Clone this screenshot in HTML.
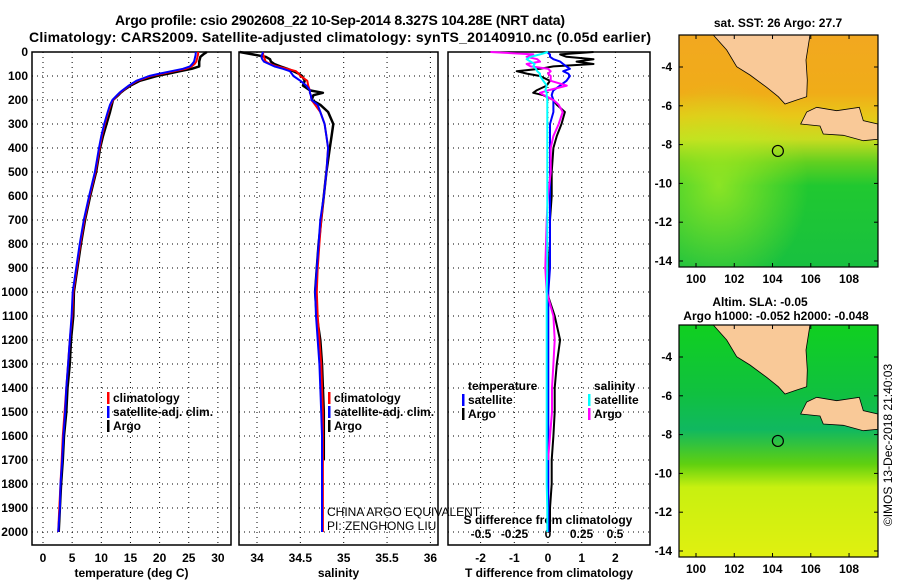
<!DOCTYPE html>
<html><head><meta charset="utf-8"><style>
html,body{margin:0;padding:0;background:#fff;}
svg{display:block;font-family:"Liberation Sans",sans-serif;}
.t{font-weight:bold;font-size:12px;fill:#000;}
.h{font-weight:bold;font-size:14px;fill:#000;}
</style></head><body>
<svg id="chart" width="900" height="580" viewBox="0 0 900 580" xmlns="http://www.w3.org/2000/svg">
<rect width="900" height="580" fill="#fff"/>
<text class="h" x="340" y="25" text-anchor="middle" textLength="450">Argo profile: csio 2902608_22 10-Sep-2014 8.327S 104.28E (NRT data)</text>
<text class="h" x="340" y="42" text-anchor="middle" textLength="622">Climatology: CARS2009. Satellite-adjusted climatology: synTS_20140910.nc (0.05d earlier)</text>
<g id="plots"></g>
<g id="maps"></g>
<text class="t" transform="translate(892,445) rotate(-90)" text-anchor="middle" style="font-weight:normal;font-size:12px">©IMOS 13-Dec-2018 21:40:03</text>
</svg>
<script>
const NS="http://www.w3.org/2000/svg";
// ---- data ----
const depths=[0,10,20,30,40,50,60,70,80,90,100,120,140,160,170,180,200,220,250,300,350,400,500,600,700,800,900,1000,1100,1200,1300,1400,1500,1600,1700,1800,1900,2000];
const tempArgo=[28.1,27.5,27.0,26.9,26.8,26.8,26.8,25.5,23.5,21.5,19.5,16.6,15.0,13.8,13.3,12.9,12.0,11.8,11.5,10.9,10.3,9.8,9.1,8.1,7.2,6.5,5.9,5.3,5.2,4.8,4.6,4.2,4.0,3.6,3.4,3.1,2.9,2.7];
const tempClim=[26.6,26.6,26.5,26.4,26.3,26.0,25.5,24.5,22.5,20.5,18.5,16.2,14.8,13.7,13.2,12.8,12.0,11.6,11.2,10.6,10.1,9.7,9.0,8.0,7.1,6.4,5.8,5.2,5.0,4.6,4.3,4.0,3.7,3.4,3.2,3.0,2.8,2.6];
const tempSat=[26.2,26.2,26.1,26.0,25.9,25.6,25.2,24.0,22.0,20.0,18.2,16.0,14.7,13.6,13.1,12.7,11.9,11.5,11.1,10.5,10.0,9.6,8.9,7.9,7.0,6.3,5.7,5.1,4.9,4.6,4.3,4.0,3.8,3.5,3.3,3.0,2.9,2.6];
const salArgo=[33.8,33.95,34.1,34.15,34.16,34.2,34.27,34.35,34.42,34.48,34.52,34.55,34.53,34.61,34.76,34.65,34.63,34.73,34.82,34.88,34.86,34.84,34.8,34.77,34.74,34.71,34.69,34.67,34.69,34.73,34.75,34.76,34.77,34.77,34.77,null,null,null];
const salClim=[34.07,34.07,34.08,34.09,34.1,34.15,34.23,34.35,34.45,34.48,34.5,34.58,34.59,34.61,34.61,34.62,34.63,34.67,34.73,34.78,34.8,34.82,34.8,34.77,34.74,34.72,34.7,34.69,34.7,34.72,34.74,34.75,34.76,34.76,34.76,34.76,34.76,34.76];
const salSat=[34.07,34.06,34.05,34.06,34.08,34.14,34.2,34.3,34.38,34.4,34.42,34.5,34.57,34.61,34.61,34.62,34.63,34.7,34.73,34.78,34.8,34.82,34.8,34.77,34.73,34.71,34.69,34.67,34.68,34.7,34.72,34.73,34.74,34.75,34.75,34.75,34.75,34.75];
const dTArgo=[1.35,0.36,0.55,1.35,0.85,1.35,0.16,-0.24,-0.93,-0.63,-0.24,0.06,-0.04,-0.34,-0.44,-0.14,0.16,0.26,0.5,0.4,0.26,0.16,0.11,0.11,0.06,0.06,0.01,-0.04,0.2,0.36,0.26,0.2,0.2,0.16,0.11,0.11,0.06,0.06];
const dTSat=[-0.04,0.06,0.06,0.16,0.36,0.45,0.55,0.65,0.45,0.6,0.65,0.55,0.36,0.16,0.13,0.11,0.16,0.16,0.16,0.06,0.06,0.06,0.06,0.06,0.06,0.06,0.06,0.01,0.01,0.01,0.01,0.01,0.01,0.01,0.01,0.01,0.01,0.01];
const dSArgo=[-0.43,-0.11,-0.16,-0.08,-0.06,-0.16,-0.13,0,0.02,0,0.02,0.02,0.14,0,-0.06,-0.03,0.04,0.08,0.11,0.08,0.04,0.02,0.02,0.0,-0.01,-0.015,-0.02,-0.01,0.04,0.05,0.04,0.03,0.03,0.015,0.0,null,null,null];
const dSSat=[0,-0.06,-0.13,-0.16,-0.13,-0.1,-0.11,-0.09,-0.08,-0.06,-0.06,-0.035,-0.01,-0.02,-0.01,-0.01,-0.005,-0.005,-0.005,-0.005,-0.005,-0.005,-0.005,-0.005,-0.005,-0.005,-0.005,-0.01,-0.01,-0.01,-0.01,-0.01,-0.01,-0.01,-0.01,-0.01,-0.005,-0.005];
const depthTicks=[0,100,200,300,400,500,600,700,800,900,1000,1100,1200,1300,1400,1500,1600,1700,1800,1900,2000];
const tempTicks=[0,5,10,15,20,25,30];
const salTicks=[34,34.5,35,35.5,36];
const dTTicks=[-2,-1,0,1,2];
const dSTicks=[-0.5,-0.25,0,0.25,0.5];
const dSTickLabels=["-0.5","-0.25","0","0.25","0.5"];
const lonTicks=[100,102,104,106,108];
const latTicks=[-4,-6,-8,-10,-12,-14];
const floatLon=[104.28], floatLat=[-8.327];

// ---- axes ----
const yD=d=>52+0.24*d;
const P1={x0:32,x1:231}, P2={x0:239,x1:438}, P3={x0:448,x1:650};
const xT=v=>43+5.83*v;
const xS=v=>257+86.7*(v-34);
const xDT=v=>548+33.7*v;
const xDS=v=>548+134*v;
const plots=document.getElementById('plots');
function el(tag,attrs,parent){const e=document.createElementNS(NS,tag);for(const k in attrs)e.setAttribute(k,attrs[k]);(parent||plots).appendChild(e);return e;}
function txt(s,x,y,anchor,parent,cls){const t=el('text',{x:x,y:y,'text-anchor':anchor||'middle',class:cls||'t'},parent);t.textContent=s;return t;}

function panel(P,name,xticks,xf,labels,xlabel){
  const g=el('g',{});
  
  
  depthTicks.forEach(d=>{const l=el('line',{x1:P.x0,x2:P.x1,y1:yD(d),y2:yD(d),stroke:'#000','stroke-width':1,'stroke-dasharray':'1,4'},g);
    });
  xticks.forEach((v,i)=>{const l=el('line',{x1:xf(v),x2:xf(v),y1:52,y2:545,stroke:'#000','stroke-width':1,'stroke-dasharray':'1,4'},g);
    
    if(labels){const t=txt(labels[i],xf(v),562,'middle',g);}});
  const r=el('rect',{x:P.x0,y:52,width:P.x1-P.x0,height:493,fill:'none',stroke:'#000','stroke-width':1.5},g);
  
  const xl=txt(xlabel,(P.x0+P.x1)/2,577,'middle',g);
  
  return g;
}
const g1=panel(P1,'temperature-panel',tempTicks,xT,tempTicks.map(String),'temperature (deg C)');
const g2=panel(P2,'salinity-panel',salTicks,xS,salTicks.map(String),'salinity');
const g3=panel(P3,'difference-panel',dTTicks,xDT,dTTicks.map(String),'T difference from climatology');
depthTicks.forEach(d=>{const t=txt(String(d),28,yD(d)+4,'end');});
dSTicks.forEach((v,i)=>{const t=txt(dSTickLabels[i],xDS(v),538,'middle',g3);});
const st=txt('S difference from climatology',548,524,'middle',g3);


function series(vals,xf,color,g,name,w){
  let d='',pen=false;
  vals.forEach((v,i)=>{if(v===null){pen=false;return;}d+=(pen?'L':'M')+xf(v).toFixed(1)+','+yD(depths[i]).toFixed(1);pen=true;});
  const p=el('path',{d:d,fill:'none',stroke:color,'stroke-width':w||2,'stroke-linejoin':'round'},g);
  
}
series(tempArgo,xT,'#000',g1,'temp-argo-line',2.5);
series(tempClim,xT,'#f00',g1,'temp-climatology-line');
series(tempSat,xT,'#00f',g1,'temp-satellite-line');
series(salArgo,xS,'#000',g2,'sal-argo-line',2.5);
series(salClim,xS,'#f00',g2,'sal-climatology-line');
series(salSat,xS,'#00f',g2,'sal-satellite-line');
series(dTArgo,xDT,'#000',g3,'dt-argo-line',2);
series(dTSat,xDT,'#00f',g3,'dt-satellite-line',2);
series(dSArgo,xDS,'#f0f',g3,'ds-argo-line',2);
series(dSSat,xDS,'#0ff',g3,'ds-satellite-line',2);

function legend(g,x,y,items,name){
  const lg=el('g',{},g);
  items.forEach((it,i)=>{
    if(it[1]){const b=el('rect',{x:x,y:y+i*14-10,width:2.5,height:12,fill:it[1]},lg);}
    const t=txt(it[0],x+6,y+i*14,'start',lg);
  });
}
legend(g1,107,402,[['climatology','#f00'],['satellite-adj. clim.','#00f'],['Argo','#000']],'temp-legend');
legend(g2,328,402,[['climatology','#f00'],['satellite-adj. clim.','#00f'],['Argo','#000']],'sal-legend');
legend(g3,462,390,[['temperature',null],['satellite','#00f'],['Argo','#000']],'t-diff-legend');
legend(g3,588,390,[['salinity',null],['satellite','#0ff'],['Argo','#f0f']],'s-diff-legend');
const c1=txt('CHINA ARGO EQUIVALENT',327,516,'start',g2);c1.setAttribute('style','font-weight:normal;font-size:12px');

const c2=txt('PI: ZENGHONG LIU',327,530,'start',g2);c2.setAttribute('style','font-weight:normal;font-size:12px');


// ---- maps ----
const maps=document.getElementById('maps');
const MX0=679,MX1=878;
const xLon=v=>696+19.13*(v-100);
const yLat=(v,top)=>top+32+19.4*(-4-v);
const sumatra=[[190,105],[230,150],[260,200],[300,225],[350,262],[385,290],[405,312],[440,300],[470,290],[472,240],[468,180],[480,105]];
const java=[[452,372],[510,378],[520,402],[580,406],[640,422],[683,418],[683,372],[640,362],[628,322],[560,332],[500,322],[470,336]];
function map(top,name,title1,title2,stops,overlay){
  const g=el('g',{},maps);
  const id='grad'+top;
  const defs=el('defs',{},g);const lg=el('linearGradient',{id:id,x1:0,y1:0,x2:0,y2:1},defs);
  stops.forEach(s=>el('stop',{offset:s[0],'stop-color':s[1]},lg));
  const h=232;
  el('rect',{x:MX0,y:top,width:MX1-MX0,height:h,fill:'url(#'+id+')'},g);
  if(overlay){const rid='r'+top;const rg=el('radialGradient',{id:rid,cx:0.2,cy:0.65,r:0.45},defs);
    el('stop',{offset:0,'stop-color':overlay,'stop-opacity':0.7},rg);el('stop',{offset:1,'stop-color':overlay,'stop-opacity':0},rg);
    el('rect',{x:MX0,y:top,width:MX1-MX0,height:h,fill:'url(#'+rid+')'},g);}
  const poly=pts=>pts.map(p=>(650+p[0]/3).toFixed(1)+','+(top-35+p[1]/3).toFixed(1)).join(' ');
  [sumatra,java].forEach((pts,i)=>{const p=el('polygon',{points:poly(pts),fill:'#f9c998',stroke:'#000','stroke-width':0.8},g);});
  const c=el('circle',{cx:xLon(floatLon[0]),cy:yLat(floatLat[0],top),r:5.5,fill:'none',stroke:'#000','stroke-width':1.2},g);
  
  el('rect',{x:MX0,y:top,width:MX1-MX0,height:h,fill:'none',stroke:'#000','stroke-width':1.2},g);
  lonTicks.forEach(v=>{el('line',{x1:xLon(v),x2:xLon(v),y1:top+h,y2:top+h-4,stroke:'#000'},g);el('line',{x1:xLon(v),x2:xLon(v),y1:top,y2:top+4,stroke:'#000'},g);
    const t=txt(String(v),xLon(v),top+h+16,'middle',g);});
  latTicks.forEach(v=>{const y=yLat(v,top);el('line',{x1:MX0,x2:MX0+4,y1:y,y2:y,stroke:'#000'},g);el('line',{x1:MX1,x2:MX1-4,y1:y,y2:y,stroke:'#000'},g);
    const t=txt(String(v),672,y+4,'end',g);});
  const t1=txt(title1,title2?760:778,top-(title2?19:8),'middle',g);
  if(title2){const t2=txt(title2,776,top-5,'middle',g);}
}
map(35,'sst-map','sat. SST: 26 Argo: 27.7',null,[[0,'#f2a820'],[0.25,'#f0ac18'],[0.35,'#e8c818'],[0.45,'#c8dc20'],[0.55,'#60d020'],[0.65,'#20c830'],[1,'#18c040']],'#b8f020');
map(325,'sla-map','Altim. SLA: -0.05','Argo h1000: -0.052 h2000: -0.048',[[0,'#10d020'],[0.3,'#10c040'],[0.45,'#10b860'],[0.6,'#60d010'],[0.7,'#c8f010'],[1,'#e0f010']],null);
</script>
</body></html>
